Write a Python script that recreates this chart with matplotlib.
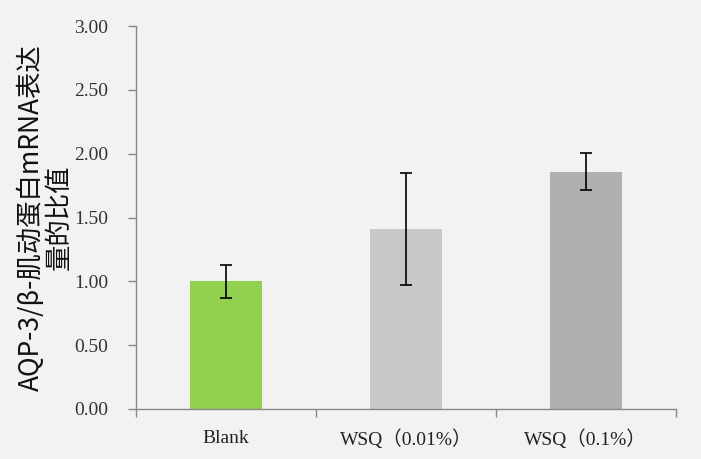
import matplotlib
matplotlib.use("Agg")
import matplotlib.pyplot as plt
import numpy as np

# values
groups = ["Blank", "WSQ（0.01%）", "WSQ（0.1%）"]
ratio = [1.00, 1.41, 1.86]
err = [0.13, 0.44, 0.145]
bar_colors = ["#92D050", "#C8C8C8", "#B0B0B0"]
yticks = [0.0, 0.5, 1.0, 1.5, 2.0, 2.5, 3.0]

bg = "#F2F2F2"
axis_gray = "#888888"
tick_font = ["Liberation Serif", "Noto Sans CJK SC"]

fig = plt.figure(figsize=(7.01, 4.59), dpi=100, facecolor=bg)
ax = fig.add_axes([0.194, 0.109, 0.770, 0.834], facecolor=bg)

x = np.arange(len(groups))
ax.bar(x, ratio, width=0.4, color=bar_colors, zorder=2)
ax.errorbar(x, ratio, yerr=err, fmt="none", ecolor="black", elinewidth=1.2,
            capsize=4.5, capthick=1.2, zorder=3)

ax.set_xlim(-0.5, len(groups) - 0.5)
ax.set_ylim(0, 3.0)
ax.set_yticks(yticks)
ax.set_yticklabels([f"{v:.2f}" for v in yticks], family=tick_font,
                   fontsize=14, color="#333333")

# labels at category centres, tick marks on the boundaries
ax.set_xticks(x)
ax.set_xticklabels(groups, family=tick_font, fontsize=14, color="#222222")
ax.set_xticks(np.arange(len(groups) + 1) - 0.5, minor=True)
ax.tick_params(axis="x", which="major", length=0, pad=15)
ax.tick_params(axis="x", which="minor", length=6, color=axis_gray, width=1)
ax.tick_params(axis="y", length=6, color=axis_gray, width=1, pad=14)

for s in ["top", "right"]:
    ax.spines[s].set_visible(False)
for s in ["left", "bottom"]:
    ax.spines[s].set_color(axis_gray)
    ax.spines[s].set_linewidth(1)

ax.set_ylabel("AQP-3/β-肌动蛋白mRNA表达\n量的比值", family=["Noto Sans CJK SC", "DejaVu Sans"],
              fontsize=19, linespacing=1.0, color="#111111")
ax.yaxis.set_label_coords(-0.118, 0.5)

fig.savefig("out.png", dpi=100, facecolor=bg)
